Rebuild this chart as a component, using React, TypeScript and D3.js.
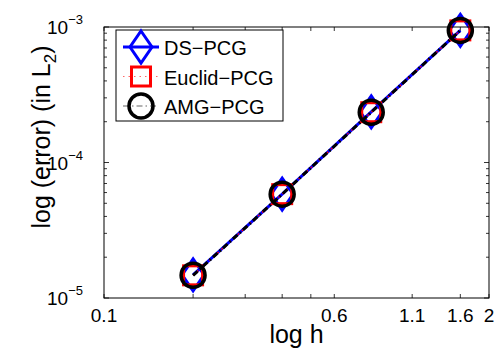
import * as d3 from 'd3';
import React from 'react';

// mesh size h and L2 error per solver
const hValues = [0.2, 0.4, 0.8, 1.6];
const dsErr = [1.48e-5, 5.85e-5, 2.36e-4, 9.45e-4];
const euclidErr = [1.47e-5, 5.84e-5, 2.35e-4, 9.44e-4];
const amgErr = [1.47e-5, 5.84e-5, 2.35e-4, 9.44e-4];

const xTickMarks = [0.1, 0.2, 0.3, 0.4, 0.5, 0.6, 1.1, 1.6, 2];
const xTickLabels = [0.1, 0.6, 1.1, 1.6, 2];
const yExponents = [-5, -4, -3];

const W = 496, H = 354;
const margin = {top: 27, right: 7, bottom: 56, left: 104};
const font = '"Liberation Sans", Arial, Helvetica, sans-serif';

function App() {
    const x = d3.scaleLog().domain([0.1, 2]).range([margin.left, W - margin.right]);
    const y = d3.scaleLog().domain([1e-5, 1e-3]).range([H - margin.bottom, margin.top]);
    const [x0, x1] = x.range();
    const [y0, y1] = y.range();

    const line = (vals: number[]) =>
        d3.line<number>().x((d, i) => x(hValues[i])).y(d => y(d))(vals) || '';

    const yTicks = y.ticks();
    const isMajor = (v: number) => Math.abs(Math.log10(v) - Math.round(Math.log10(v))) < 1e-6;

    const diamond = 'M0,-16L11,0L0,16L-11,0Z';

    const legendX = 116, legendY = 30;
    const legendRows = [
        {name: 'DS\u2212PCG', kind: 'ds'},
        {name: 'Euclid\u2212PCG', kind: 'eu'},
        {name: 'AMG\u2212PCG', kind: 'amg'},
    ];

    const marker = (kind: string, cx: number, cy: number, key: any) => {
        if (kind === 'ds')
            return <path key={key} d={diamond} transform={`translate(${cx},${cy})`} fill="none" stroke="#0000ff" strokeWidth={3} />;
        if (kind === 'eu')
            return <rect key={key} x={cx - 9.5} y={cy - 9.5} width={19} height={19} fill="none" stroke="#ff0000" strokeWidth={3} />;
        return <circle key={key} cx={cx} cy={cy} r={12} fill="none" stroke="#000" strokeWidth={3.5} />;
    };

    return (
        <svg width={W} height={H} style={{position: 'absolute', left: 0, top: 0, background: '#fff'}} fontFamily={font}>
            {/* ticks, inward, on all four sides */}
            <g stroke="#000" strokeWidth={0.8}>
                {xTickMarks.map((t, i) => (
                    <g key={'xt' + i}>
                        <line x1={x(t)} x2={x(t)} y1={y0} y2={y0 - 4} />
                        <line x1={x(t)} x2={x(t)} y1={y1} y2={y1 + 4} />
                    </g>
                ))}
                {yTicks.map((t, i) => {
                    const len = isMajor(t) ? 5 : 3;
                    return (
                        <g key={'yt' + i}>
                            <line x1={x0} x2={x0 + len} y1={y(t)} y2={y(t)} />
                            <line x1={x1} x2={x1 - len} y1={y(t)} y2={y(t)} />
                        </g>
                    );
                })}
            </g>

            {/* series */}
            <path d={line(dsErr)} fill="none" stroke="#0000ff" strokeWidth={3} />
            {dsErr.map((v, i) => marker('ds', x(hValues[i]), y(v), 'd' + i))}
            <path d={line(euclidErr)} fill="none" stroke="#ff0000" strokeWidth={1.5} strokeDasharray="1.5,4" />
            {euclidErr.map((v, i) => marker('eu', x(hValues[i]), y(v), 'e' + i))}
            <path d={line(amgErr)} fill="none" stroke="#000" strokeWidth={3} strokeDasharray="6,3,1.5,3" />
            {amgErr.map((v, i) => marker('amg', x(hValues[i]), y(v), 'a' + i))}

            {/* axes box */}
            <rect x={x0} y={y1} width={x1 - x0} height={y0 - y1} fill="none" stroke="#000" strokeWidth={1} />

            {/* x tick labels */}
            {xTickLabels.map((t, i) => (
                <text key={'xl' + i} x={x(t)} y={y0 + 24} fontSize={19} textAnchor="middle">{String(t)}</text>
            ))}

            {/* y tick labels */}
            {yExponents.map((e, i) => {
                const ty = y(Math.pow(10, e));
                return (
                    <text key={'yl' + i} x={x0 - 21} y={ty + 7} fontSize={19} textAnchor="end">
                        10<tspan dy={-10} fontSize={13}>{'\u2212' + Math.abs(e)}</tspan>
                    </text>
                );
            })}

            {/* axis titles */}
            <text x={(x0 + x1) / 2} y={343} fontSize={25} textAnchor="middle">log h</text>
            <text transform="translate(50,137) rotate(-90)" fontSize={25} textAnchor="middle">
                log (error) (in L<tspan dy={6} fontSize={17}>2</tspan><tspan dy={-6}>)</tspan>
            </text>

            {/* legend */}
            <rect x={legendX} y={legendY} width={167} height={91} fill="#fff" stroke="#000" strokeWidth={1} />
            {legendRows.map((r, i) => {
                const cy = 47 + i * 29.5;
                const lineEl = r.kind === 'ds'
                    ? <line x1={123} x2={159} y1={cy} y2={cy} stroke="#0000ff" strokeWidth={3} />
                    : r.kind === 'eu'
                        ? <line x1={123} x2={159} y1={cy} y2={cy} stroke="#ff0000" strokeOpacity={0.6} strokeWidth={1.2} strokeDasharray="1.5,4" />
                        : <line x1={123} x2={159} y1={cy} y2={cy} stroke="#000" strokeOpacity={0.6} strokeWidth={1.2} strokeDasharray="6,3,1.5,3" />;
                return (
                    <g key={'lg' + i}>
                        {lineEl}
                        {marker(r.kind, 141, cy, 'm')}
                        <text x={164} y={cy + 8} fontSize={20}>{r.name}</text>
                    </g>
                );
            })}
        </svg>
    );
}

export default App;
